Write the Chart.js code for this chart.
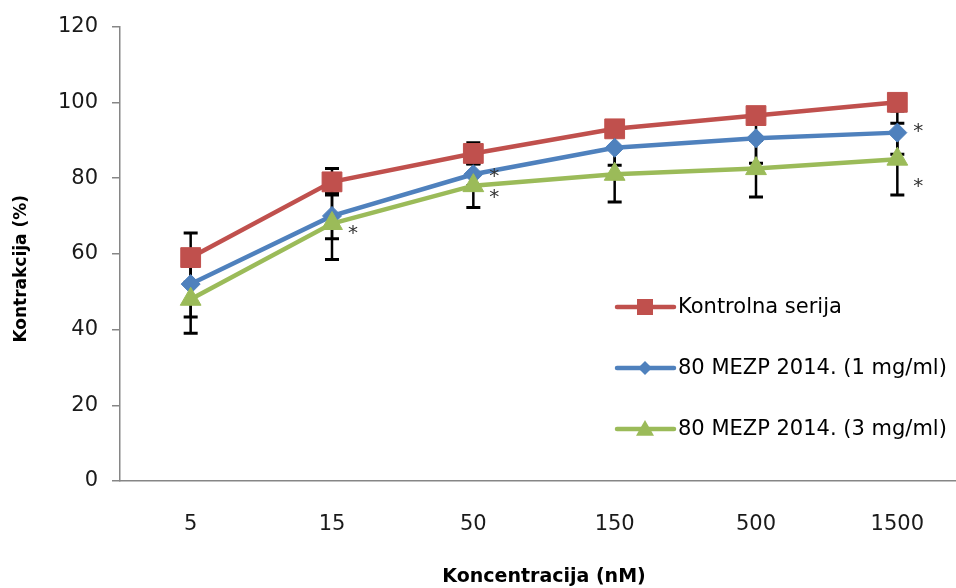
<!DOCTYPE html>
<html>
<head>
<meta charset="utf-8">
<script src="https://cdn.jsdelivr.net/npm/chart.js@4.4.0/dist/chart.umd.min.js"></script>
<style>
html, body { margin: 0; padding: 0; background: #fff; overflow: hidden; }
canvas { display: block; }
</style>
</head>
<body>
<canvas id="grafica" width="972" height="588"></canvas>
<script>
const koncentracije = ['5', '15', '50', '150', '500', '1500'];
const kontrolna = [59, 79, 86.5, 93, 96.5, 100];
const kontrolnaSD = [6.5, 3.5, 2.8, 2, 2, 2];
const mezp1 = [52, 70, 81, 88, 90.5, 92];
const mezp1SD = [8.7, 6, 3, 4.6, 6.6, 5.7];
const mezp3 = [48, 68, 78, 81, 82.5, 85];
const mezp3SD = [9, 9.5, 5.8, 7.3, 7.5, 9.5];
const yTicks = [0, 20, 40, 60, 80, 100, 120];
// zvjezdice (*): [serija, indeks koncentracije, visina u %]
const zvjezdice = [[2, 1, 66], [1, 2, 81], [2, 2, 75.5], [1, 5, 93], [2, 5, 78.5]];

const FONT = 'DejaVu Sans';
const graphic = document.getElementById('grafica');

// crta error barove ispod linija i markera
const errorBars = {
  id: 'errorBars',
  beforeDatasetsDraw(chart) {
    const ctx = chart.ctx, y = chart.scales.y;
    chart.data.datasets.forEach((ds, i) => {
      const meta = chart.getDatasetMeta(i);
      meta.data.forEach((pt, j) => {
        const top = y.getPixelForValue(ds.data[j] + ds.sd[j]);
        const bot = y.getPixelForValue(ds.data[j] - ds.sd[j]);
        ctx.save();
        ctx.strokeStyle = '#000';
        ctx.lineWidth = 2.5;
        ctx.beginPath();
        ctx.moveTo(pt.x, top); ctx.lineTo(pt.x, bot);
        ctx.stroke();
        ctx.lineWidth = 3;
        ctx.beginPath();
        ctx.moveTo(pt.x - 7, top); ctx.lineTo(pt.x + 7, top);
        ctx.moveTo(pt.x - 7, bot); ctx.lineTo(pt.x + 7, bot);
        ctx.stroke();
        ctx.restore();
      });
    });
  }
};

// zvjezdice za statisticku znacajnost
const stars = {
  id: 'stars',
  afterDatasetsDraw(chart) {
    const ctx = chart.ctx, y = chart.scales.y;
    ctx.save();
    ctx.font = '20px "' + FONT + '"';
    ctx.fillStyle = '#333';
    ctx.textAlign = 'center';
    ctx.textBaseline = 'middle';
    zvjezdice.forEach(([s, idx, v]) => {
      const pt = chart.getDatasetMeta(s).data[idx];
      ctx.fillText('*', pt.x + 21, y.getPixelForValue(v) + 3);
    });
    ctx.restore();
  }
};

// naslov y osi, malo ispod sredine kao u originalu
const yTitle = {
  id: 'yTitle',
  afterDraw(chart) {
    const ctx = chart.ctx, a = chart.chartArea;
    ctx.save();
    ctx.translate(22, (a.top + a.bottom) / 2 + 15);
    ctx.rotate(-Math.PI / 2);
    ctx.font = 'bold 17px "' + FONT + '"';
    ctx.fillStyle = '#000';
    ctx.textAlign = 'center';
    ctx.textBaseline = 'middle';
    ctx.fillText('Kontrakcija (%)', 0, 0);
    ctx.restore();
  }
};

function drawMarker(ctx, style, x, y, r) {
  ctx.beginPath();
  if (style === 'rect') {
    ctx.rect(x - r, y - r, 2 * r, 2 * r);
  } else if (style === 'rectRot') {
    ctx.moveTo(x, y - r); ctx.lineTo(x + r, y); ctx.lineTo(x, y + r); ctx.lineTo(x - r, y);
    ctx.closePath();
  } else {
    ctx.moveTo(x, y - r); ctx.lineTo(x + r, y + r * 0.75); ctx.lineTo(x - r, y + r * 0.75);
    ctx.closePath();
  }
  ctx.fill();
}

// legenda unutar podrucja grafa
const legendInside = {
  id: 'legendInside',
  afterDraw(chart) {
    const ctx = chart.ctx;
    const sizes = [8, 7, 9];
    chart.data.datasets.forEach((ds, i) => {
      const yy = 307 + i * 61;
      ctx.save();
      ctx.strokeStyle = ds.borderColor;
      ctx.fillStyle = ds.borderColor;
      ctx.lineWidth = 4.5;
      ctx.lineCap = 'round';
      ctx.beginPath();
      ctx.moveTo(617, yy); ctx.lineTo(674, yy);
      ctx.stroke();
      drawMarker(ctx, ds.pointStyle, 645, yy, sizes[i]);
      ctx.fillStyle = '#000';
      ctx.font = '21px "' + FONT + '"';
      ctx.textBaseline = 'middle';
      ctx.fillText(ds.label, 678, yy + 1);
      ctx.restore();
    });
  }
};

function dataset(label, data, sd, color, style, radius, order) {
  return {
    label: label,
    data: data,
    sd: sd,
    borderColor: color,
    backgroundColor: color,
    borderWidth: 4.5,
    pointStyle: style,
    pointRadius: radius,
    pointHoverRadius: radius,
    pointBorderWidth: 1,
    pointBackgroundColor: color,
    pointBorderColor: color,
    tension: 0,
    clip: false,
    order: order
  };
}

const config = {
  type: 'line',
  data: {
    labels: koncentracije,
    datasets: [
      dataset('Kontrolna serija', kontrolna, kontrolnaSD, '#C0504D', 'rect', 14, 2),
      dataset('80 MEZP 2014. (1 mg/ml)', mezp1, mezp1SD, '#4F81BD', 'rectRot', 9.5, 1),
      dataset('80 MEZP 2014. (3 mg/ml)', mezp3, mezp3SD, '#9BBB59', 'triangle', 12, 0)
    ]
  },
  options: {
    responsive: false,
    animation: false,
    layout: { autoPadding: false, padding: { top: 24, right: 4, left: 0, bottom: 0 } },
    plugins: { legend: { display: false }, tooltip: { enabled: false } },
    scales: {
      x: {
        offset: true,
        grid: { display: false },
        border: { display: true, color: '#868686', width: 1.5 },
        ticks: { font: { family: FONT, size: 21 }, color: '#1a1a1a', padding: 23 },
        title: {
          display: true, text: 'Koncentracija (nM)', color: '#000',
          font: { family: FONT, size: 19, weight: 'bold' }, padding: { top: 0, bottom: 0 }
        },
        afterFit: s => { s.height = 107; }
      },
      y: {
        min: 0, max: 120,
        afterBuildTicks: s => { s.ticks = yTicks.map(v => ({ value: v })); },
        grid: { drawOnChartArea: false, drawTicks: true, tickLength: 8, color: '#868686', lineWidth: 1.5 },
        border: { display: true, color: '#868686', width: 1.5 },
        ticks: { font: { family: FONT, size: 21 }, color: '#1a1a1a', padding: 14 },
        title: { display: false },
        afterFit: s => { s.width = 120; }
      }
    }
  },
  plugins: [errorBars, stars, legendInside, yTitle]
};

new Chart(graphic, config);
</script>
</body>
</html>
